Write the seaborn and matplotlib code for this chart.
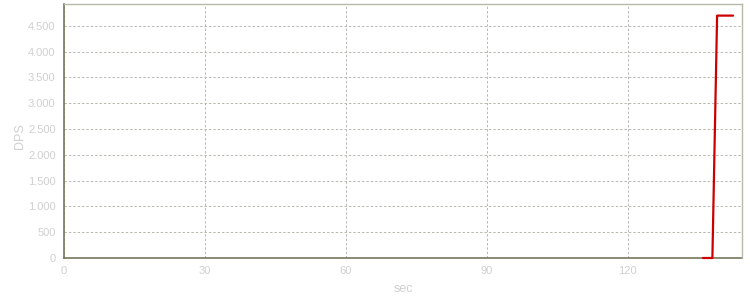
import matplotlib
matplotlib.use("Agg")
import matplotlib.pyplot as plt
import seaborn as sns
import pandas as pd
from matplotlib.ticker import FuncFormatter, MultipleLocator

sec = [136, 138, 139, 142.4]
dps = [0, 0, 4700, 4700]

sns.set_theme(style="white")
plt.rcParams['font.family'] = ['Liberation Sans', 'DejaVu Sans']

df = pd.DataFrame({"sec": sec, "DPS": dps})

fig = plt.figure(figsize=(7.5, 3), dpi=100)
ax = fig.add_axes([64/750, 42/300, (742-64)/750, (258-4)/300])
sns.lineplot(data=df, x="sec", y="DPS", ax=ax, color="#cc0000", linewidth=1.6)
for ln in ax.lines:
    ln.set_zorder(5)
    ln.set_clip_on(False)

ax.set_xlim(0, 144.3)
ax.set_ylim(0, 4925)
ax.xaxis.set_major_locator(MultipleLocator(30))
ax.yaxis.set_major_locator(MultipleLocator(500))
ax.yaxis.set_major_formatter(FuncFormatter(lambda v, p: f"{int(v):,}".replace(",", ".")))

ax.grid(True, color="#b8b8b0", linestyle=(0, (2.5, 2)), linewidth=0.7)
ax.set_axisbelow(True)

for s in ["left", "bottom"]:
    ax.spines[s].set_color("#77775c")
    ax.spines[s].set_linewidth(1.2)
    ax.spines[s].set_zorder(2)
for s in ["top", "right"]:
    ax.spines[s].set_color("#b8b8a8")
    ax.spines[s].set_linewidth(1.0)

ax.tick_params(axis="both", colors="#77775c", labelcolor="#d0d0d0", labelsize=8,
               length=3, width=1, direction="out", pad=3)
ax.set_xlabel("sec", color="#d0d0d0", fontsize=9, labelpad=5)
ax.set_ylabel("DPS", color="#d0d0d0", fontsize=9)
ax.yaxis.set_label_coords(-0.056, 0.48)

fig.savefig("out.png", dpi=100, facecolor="white")
